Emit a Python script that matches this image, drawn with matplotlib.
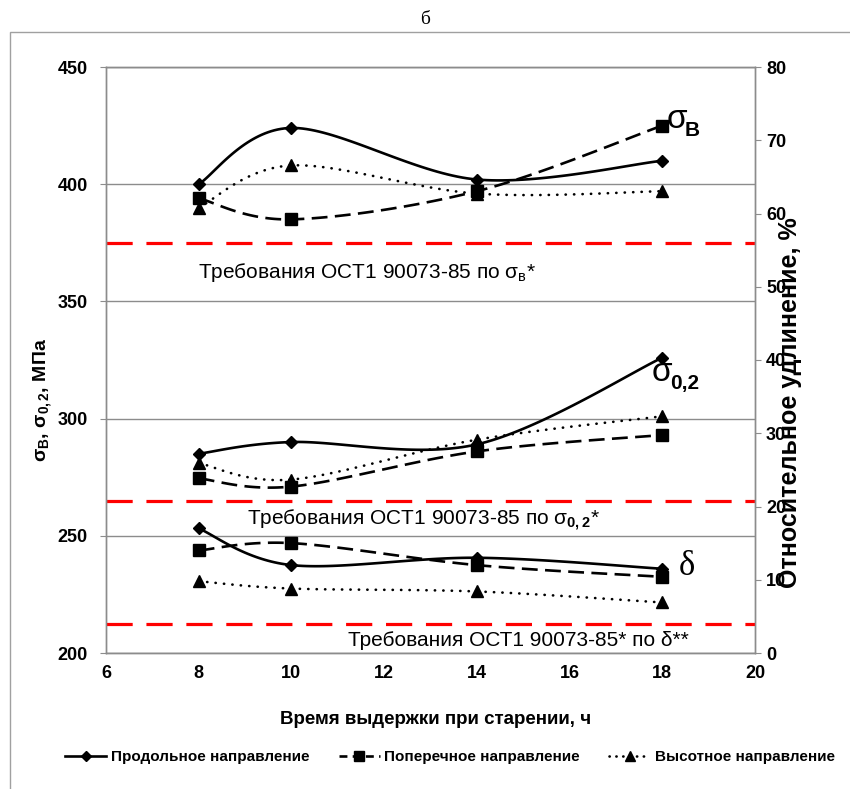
import numpy as np
import matplotlib
matplotlib.use("Agg")
import matplotlib.pyplot as plt
from matplotlib.patches import Rectangle
from matplotlib.lines import Line2D

plt.rcParams['font.family'] = ['Liberation Sans', 'DejaVu Sans']
plt.rcParams['mathtext.fontset'] = 'custom'
plt.rcParams['mathtext.rm'] = 'Liberation Sans'
plt.rcParams['mathtext.bf'] = 'Liberation Sans:bold'
plt.rcParams['mathtext.it'] = 'Liberation Sans:italic'

# Время выдержки, ч
hours = [8, 10, 14, 18]

# предел прочности sigma_B, МПа
sb_long = [400, 424, 402, 410]
sb_trans = [394, 385, 397, 425]
sb_high = [390, 408, 396, 397]

# предел текучести sigma_0.2, МПа
s02_long = [285, 290, 289, 326]
s02_trans = [274.5, 271, 286, 293]
s02_high = [281, 274, 291, 301]

# относительное удлинение, %
d_long = [17, 12, 13, 11.5]
d_trans = [14, 15, 12, 10.4]
d_high = [9.8, 8.8, 8.4, 6.9]

# требования ОСТ
req_sb = 375
req_s02 = 265
req_d = 4


def smooth(xs, ys, n=40):
    # сглаживание как в Excel (кривые Безье через точки)
    pts = np.column_stack([xs, ys]).astype(float)
    out = []
    for i in range(len(pts) - 1):
        p0 = pts[i - 1] if i > 0 else pts[i]
        p1 = pts[i]
        p2 = pts[i + 1]
        p3 = pts[i + 2] if i + 2 < len(pts) else pts[i + 1]
        c1 = p1 + (p2 - p0) / 6
        c2 = p2 - (p3 - p1) / 6
        t = np.linspace(0, 1, n)[:, None]
        seg = (1 - t) ** 3 * p1 + 3 * (1 - t) ** 2 * t * c1 + 3 * (1 - t) * t ** 2 * c2 + t ** 3 * p2
        out.append(seg if i == 0 else seg[1:])
    s = np.vstack(out)
    return s[:, 0], s[:, 1]


fig = plt.figure(figsize=(8.5, 7.89), dpi=100)
ax = fig.add_axes([106 / 850, 1 - 653 / 789, 649 / 850, 586 / 789])
ax2 = ax.twinx()

styles = [
    dict(ls='-', marker='D', ms=6.5),
    dict(ls=(0, (6, 2.8)), marker='s', ms=8),
    dict(ls=(0, (0.1, 3.1)), marker='^', ms=9),
]

lw = 1.9
left_series = [sb_long, sb_trans, sb_high, s02_long, s02_trans, s02_high]
for k, ys in enumerate(left_series):
    st = styles[k % 3]
    sx, sy = smooth(hours, ys)
    ax.plot(sx, sy, color='black', lw=lw, ls=st['ls'], dash_capstyle='round' if k % 3 == 2 else 'butt', zorder=3)
    ax.plot(hours, ys, ls='none', marker=st['marker'], ms=st['ms'], color='black', zorder=4)

for k, ys in enumerate([d_long, d_trans, d_high]):
    st = styles[k]
    sx, sy = smooth(hours, ys)
    ax2.plot(sx, sy, color='black', lw=lw, ls=st['ls'], dash_capstyle='round' if k == 2 else 'butt', zorder=3)
    ax2.plot(hours, ys, ls='none', marker=st['marker'], ms=st['ms'], color='black', zorder=4)

red_ls = (0, (8.2, 4.3))
ax.axhline(req_sb, color='#ff0000', lw=2.3, ls=red_ls, zorder=2)
ax.axhline(req_s02, color='#ff0000', lw=2.3, ls=red_ls, zorder=2)
ax2.axhline(req_d, color='#ff0000', lw=2.3, ls=red_ls, zorder=2)

ax.set_xlim(6, 20)
ax.set_ylim(200, 450)
ax2.set_ylim(0, 80)
ax.set_xticks(np.arange(6, 21, 2))
ax.set_yticks(np.arange(200, 451, 50))
ax2.set_yticks(np.arange(0, 81, 10))
ax.grid(axis='y', color='#8c8c8c', lw=1)
ax.set_axisbelow(True)

for a in (ax, ax2):
    for sp in a.spines.values():
        sp.set_color('#8c8c8c')
        sp.set_linewidth(1)
ax.tick_params(axis='x', length=0, pad=9, labelsize=13)
ax.tick_params(axis='y', length=4, color='#8c8c8c', pad=9, labelsize=13)
ax2.tick_params(axis='y', length=4, color='#8c8c8c', pad=4, labelsize=13)
for lab in ax.get_xticklabels() + ax.get_yticklabels() + ax2.get_yticklabels():
    lab.set_fontweight('bold')

# подписи требований
req_size = 15
ax.text(7.98, 362.5, 'Требования ОСТ1 90073-85 по σ$_{\\mathregular{в}}$*', fontsize=req_size, ha='left', va='center')
ax.text(9.04, 256.7, 'Требования ОСТ1 90073-85 по σ$_{\\mathbf{0,2}}$*', fontsize=req_size, ha='left', va='center')
ax.text(11.22, 205.5, 'Требования ОСТ1 90073-85* по δ**', fontsize=req_size, ha='left', va='center')

# обозначения кривых
ax.text(18.1, 427.4, 'σ', fontsize=24, ha='left', va='center')
ax.text(18.49, 423, 'В', fontsize=15, fontweight='bold', ha='left', va='center')
ax.text(17.78, 319.5, 'σ', fontsize=24, ha='left', va='center')
ax.text(18.17, 315, '0,2', fontsize=15, fontweight='bold', ha='left', va='center')
ax.text(18.35, 236.7, 'δ', fontsize=25, ha='left', va='center', family=['Liberation Serif', 'DejaVu Serif'])

fig.text(43 / 850, 1 - 400 / 789, 'σ$_{\\mathbf{В}}$, σ$_{\\mathbf{0,2}}$, МПа', rotation=90,
         fontsize=14, fontweight='bold', ha='center', va='center')
fig.text(790 / 850, 1 - 403 / 789, 'Относительное удлинение, %', rotation=90,
         fontsize=18, fontweight='bold', ha='center', va='center')
fig.text(436 / 850, 1 - 720 / 789, 'Время выдержки при старении, ч', fontsize=13.5,
         fontweight='bold', ha='center', va='center')
fig.text(425 / 850, 1 - 20 / 789, 'б', fontsize=14, ha='center', va='center',
         family=['Liberation Serif', 'DejaVu Serif'])

handles = [
    Line2D([], [], color='black', lw=lw, ls='-', marker='D', ms=5),
    Line2D([], [], color='black', lw=lw, ls=(0, (3, 2)), marker='s', ms=7),
    Line2D([], [], color='black', lw=lw, ls=(0, (0.1, 2.5)), dash_capstyle='round', marker='^', ms=7),
]
labels = ['Продольное направление', 'Поперечное направление', 'Высотное направление']
leg = fig.legend(handles, labels, loc='center', bbox_to_anchor=(450 / 850, 1 - 757 / 789), ncol=3,
                 frameon=False, handlelength=2.7, handletextpad=0.3, columnspacing=1.9,
                 prop={'weight': 'bold', 'size': 11})

fig.patches.append(Rectangle((10 / 850, -0.1), 1.0, 1 - 32 / 789 + 0.1, transform=fig.transFigure,
                             fill=False, edgecolor='#a0a0a0', lw=1))

fig.savefig('out.png', dpi=100)
